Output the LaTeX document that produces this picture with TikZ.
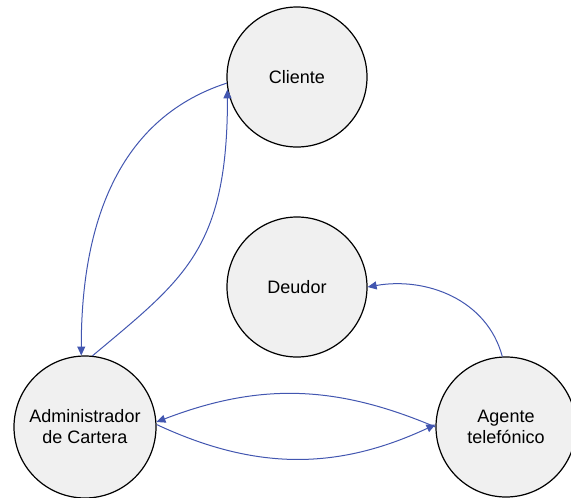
\documentclass[tikz,border=0pt]{standalone}
\usepackage{fontspec}
\setmainfont{Liberation Sans}
\usetikzlibrary{arrows.meta}
\definecolor{edgeblue}{RGB}{66,86,176}
\definecolor{nodefill}{RGB}{240,240,240}
\begin{document}
\begin{tikzpicture}[x=1pt,y=-1pt,
  actor/.style={circle, draw=black, line width=1.2pt, fill=nodefill,
    minimum size=140pt, inner sep=0pt, align=center,
    font=\fontsize{18}{21}\selectfont},
  flow/.style={draw=edgeblue, line width=1pt,
    -{Triangle[length=9pt,width=8pt]}}]
  \useasboundingbox (0,0) rectangle (571,498);

  % the four actors
  \node[actor] (cli) at (297,77)  {Cliente};
  \node[actor] (deu) at (297,287) {Deudor};
  \node[actor, minimum size=142pt] (adm) at (85,427) {Administrador\\de Cartera};
  \node[actor] (age) at (506,427) {Agente\\telefónico};

  % Cliente <-> Administrador de Cartera
  \draw[flow] (cli.185) to[out=198, in=90] (adm.93);
  \draw[flow] (adm.84) .. controls +(40:120pt) and +(-90:160pt) .. (cli.190);

  % Agente telefónico -> Deudor
  \draw[flow] (age.93) to[out=105, in=10] (deu.0);

  % Administrador de Cartera <-> Agente telefónico
  \draw[flow] (age.180) to[bend right=22] (adm.4);
  \draw[flow] (adm.2) to[bend right=25] (age.178);
\end{tikzpicture}
\end{document}
